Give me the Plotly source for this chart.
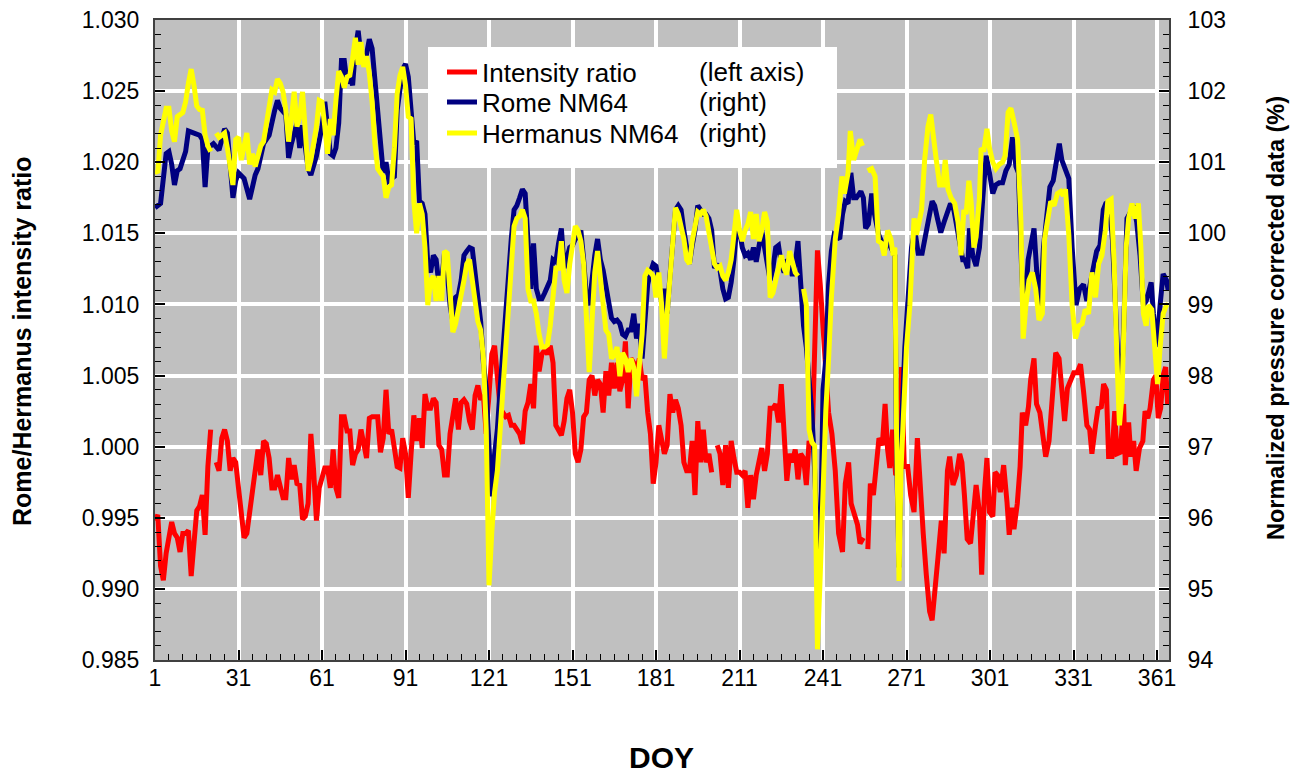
import plotly.graph_objects as go

# ---------------- data ----------------
N = None
ratio_doy = [1,2,3,4,5,7,8,9,10,11,12,13,14,15,16,17,18,19,20,21,22,23,24,25,26,27,28,29,30,
             31,32,33,34,35,36,37,38,39,40,41,42,43,44,45,46,47,48,49,50,51,52,53,54,55,56,57,58,59,60,
             61,62,63,64,65,66,67,68,69,70,71,72,73,74,75,76,77,78,79,80,81,82,83,84,85,86,87,88,89,90,
             91,92,93,94,95,96,97,98,99,100,101,102,103,104,105,106,107,108,109,110,111,112,113,114,115,116,117,118,119,120,
             121,122,123,124,125,126,127,128,129,130,131,132,133,134,135,136,137,138,139,140,141,142,143,144,145,146,147,148,149,150,
             151,152,153,154,155,156,157,158,159,160,161,162,163,164,165,166,167,168,169,170,171,172,173,174,175,176,177,178,179,180,
             181,182,183,184,185,186,187,188,189,190,191,192,193,194,195,196,197,198,199,200,201,202,203,204,205,206,207,208,209,210,
             211,212,213,214,215,216,217,218,219,220,221,222,223,224,225,226,227,228,229,230,231,232,233,234,235,236,237,238,239,240,
             241.5,243,244.2,245.4,246.6,248,249,250.2,251.1,252.3,253.4,254.3,255.5,256.3,257.1,258,259.1,260.3,261.1,262.3,263.3,264.2,265,266,267.1,268.3,269.2,270.2,
             271.4,272.5,273.7,274.9,275.8,277,278.1,279.3,280.2,281.1,282.3,283.5,284.5,285.7,286.5,287.7,288.9,290.1,290.9,291.8,292.8,294,295.2,296,297.2,298,299,299.9,
             300.8,302,302.8,303.7,304.7,305.9,307.1,307.9,308.8,309.6,310.8,311.8,312.6,313.8,314.8,315.6,316.8,317.7,318.9,319.8,321,322.2,323.4,324.6,325.8,326.7,327.8,328.8,
             329.9,331.1,332.3,333.5,334.6,335.8,336.8,337.6,338.9,339.8,341,341.8,342.8,343.6,344.8,345.8,346.6,347.8,349,349.6,350.8,351.6,352.6,353.5,354.7,355.9,356.7,357.7,
             358.5,359.7,360.6,361.4,362.3,363.2,364.1,364.8]
ratio = [0.9948,0.9952,0.9916,0.9906,0.9925,0.9947,0.9939,0.9936,0.9926,0.9939,0.9939,0.9941,0.9909,0.9933,0.9955,0.9958,0.9966,0.9938,0.9986,1.0012,N,0.9989,0.9983,1.0006,1.0012,1.0004,0.9983,0.9992,0.9989,
         0.9971,0.9951,0.9936,0.9939,0.9954,0.9974,0.9983,0.9998,0.9980,1.0004,1.0002,0.9992,0.9971,0.9971,0.9980,0.9971,0.9964,0.9964,0.9992,0.9977,0.9987,0.9974,0.9973,0.9949,0.9951,0.9960,1.0009,0.9983,0.9948,0.9971,
         0.9980,0.9985,0.9985,0.9971,0.9998,0.9971,0.9964,1.0021,1.0021,1.0011,1.0011,0.9987,0.9995,0.9998,1.0012,1.0001,0.9992,1.0020,1.0021,1.0021,1.0021,0.9996,1.0006,1.0040,1.0009,1.0012,1.0001,0.9986,0.9985,1.0006,
         0.9995,0.9964,0.9995,1.0022,1.0004,1.0020,0.9999,1.0037,1.0027,1.0027,1.0034,1.0031,1.0001,0.9998,0.9980,0.9980,1.0009,1.0024,1.0034,1.0012,1.0031,1.0033,1.0030,1.0018,1.0012,1.0036,1.0043,1.0033,1.0036,1.0009,
         1.0041,1.0065,1.0071,1.0053,1.0027,1.0024,1.0021,1.0022,1.0015,1.0015,1.0012,1.0009,1.0002,1.0025,1.0031,1.0044,1.0027,1.0071,1.0053,1.0065,1.0068,1.0065,1.0071,1.0059,1.0015,1.0011,1.0008,1.0018,1.0034,1.0040,
         1.0024,0.9995,0.9989,0.9998,1.0021,1.0024,1.0047,1.0050,1.0036,1.0047,1.0044,1.0024,1.0053,1.0036,1.0059,1.0041,1.0059,1.0039,1.0047,1.0074,1.0027,1.0062,1.0059,1.0053,1.0062,1.0047,1.0050,1.0024,1.0009,0.9974,
         0.9989,1.0015,1.0004,0.9995,1.0001,1.0037,1.0024,1.0033,1.0027,1.0015,0.9989,0.9983,0.9983,1.0004,0.9966,1.0018,0.9989,1.0012,0.9989,0.9995,0.9982,N,1.0001,0.9995,0.9973,1.0001,0.9971,1.0004,0.9992,0.9982,
         0.9982,0.9980,0.9983,0.9957,0.9980,0.9963,0.9980,0.9989,0.9999,0.9983,0.9995,1.0027,1.0027,1.0030,1.0017,1.0044,1.0006,0.9976,0.9995,0.9989,0.9998,0.9977,0.9995,0.9992,0.9973,1.0004,0.9998,1.0056,1.0138,1.0114,
         1.0064,1.0024,1.0009,0.9983,0.9939,0.9926,0.9974,0.9989,0.9960,0.9951,0.9945,0.9932,0.9936,N,0.9928,0.9974,0.9966,0.9992,1.0006,1.0001,1.0030,0.9998,0.9985,1.0012,0.9980,0.9983,1.0056,0.9986,
         0.9986,0.9966,0.9954,1.0006,0.9971,0.9939,0.9910,0.9884,0.9878,0.9901,0.9922,0.9948,0.9925,0.9983,0.9993,0.9973,0.9980,0.9995,0.9989,0.9966,0.9935,0.9932,0.9960,0.9973,0.9954,0.9910,0.9968,0.9992,
         0.9954,0.9951,0.9982,0.9980,0.9968,0.9987,0.9961,0.9938,0.9957,0.9942,0.9960,0.9986,1.0024,1.0015,1.0028,1.0047,1.0062,1.0030,1.0024,1.0012,0.9993,1.0004,1.0041,1.0066,1.0062,1.0044,1.0018,1.0041,
         1.0047,1.0052,1.0052,1.0058,1.0039,1.0015,1.0012,0.9995,1.0015,1.0027,1.0028,1.0044,1.0040,0.9993,0.9993,1.0025,0.9995,0.9996,1.0030,0.9987,1.0017,0.9993,1.0004,0.9983,0.9999,1.0004,1.0025,1.0020,
         1.0027,1.0047,1.0050,1.0020,1.0027,1.0050,1.0056,1.0030]

rome_doy = [1,3,5,6,7,8,9,10,12,13,15,17,18,19,20,22,24,26,27,29,30,31,33,34,35,37,38,40,42,44,45,46,48,49,50,52,53,54,56,57,59,
            61,62,64,65,66,67,68,69,70,71,72,73,74,75,77,78,79,80,82,83,84,85,87,88,90,91,92,93,94,95,96,97,98,99,100,
            101,102,103,104,105,106,107,108,109,110,111,112,113,114,115,116,117,118,119,120,121,122,123,124,125,126,127,128,129,130,
            131,132,133,134,135,136,137,138,139,140,141,142,143,144,145,146,147,148,149,150,151,152,153,154,155,156,157,158,159,160,
            161,162,163,164,165,166,167,168,169,170,171,172,173,174,175,176,177,178,179,180,181,182,183,184,185,186,187,188,189,190,
            191,192,193,194,195,196,197,198,199,200,201,202,203,204,205,206,207,208,209,210,211,212,213,214,215,216,217,218,219,220,
            221,222,223,224,225,226,227,228,229,230,231,232,233,234,235,236,237,238,239,240,241,242,243,244,245,247,248,249,250,251,252,253,
            254.6,255.5,256.3,257.3,258.5,259.5,261,262,263,264.2,265.6,266.8,267.4,268.3,269.2,270.4,271.6,272.8,274,275.2,276.6,277.8,279,280.2,281.1,282.1,283.3,284.5,285.7,286.8,
            288,289.2,290.4,291.2,292,293,293.6,294.8,296,297.2,298.4,299.6,300.8,302,303.1,304.3,305.5,306.7,307.9,309.1,310.3,311.2,312.4,313.2,314.7,315.9,316.8,317.8,319,320.2,
            321.3,322.5,323.7,324.9,325.9,326.8,327.8,329.3,330.5,331.9,333.2,334.6,335.8,337,338.1,339.3,340.5,341.7,342.6,343.8,345,346.6,347.8,349,350.2,351.1,352.5,353.7,354.9,356.1,
            357.1,357.9,358.9,359.7,360.9,362.1,363.2,364.4,365]
rome = [100.36,100.42,101.12,101.15,100.97,100.68,100.88,100.91,101.15,101.44,101.41,101.38,101.32,100.65,101.2,101.26,101.17,101.47,101.41,100.5,100.74,100.85,100.77,100.62,100.48,100.82,100.91,101.26,101.38,101.73,101.87,101.76,101.67,101.06,101.26,101.55,101.2,101.52,100.91,100.82,101.09,
        101.5,101.85,101.12,101.09,101.2,101.55,102.43,102.43,102.11,102.22,102.08,102.6,102.85,102.49,102.52,102.73,102.6,102.2,101.38,100.85,101.0,100.74,100.8,101.73,102.31,102.38,102.2,101.61,101.26,101.3,100.45,100.42,100.27,99.57,99.45,
        99.69,99.63,99.28,99.34,99.72,99.45,98.99,98.76,99.1,99.13,99.34,99.69,99.75,99.8,99.78,99.45,98.99,98.76,98.17,97.82,97.0,96.3,96.89,97.24,97.82,98.4,98.99,99.45,99.92,100.33,
        100.39,100.5,100.62,100.56,99.98,99.22,99.86,99.22,99.08,99.08,99.16,99.25,99.34,99.63,99.6,99.86,100.07,99.51,99.63,99.8,99.83,99.92,99.95,100.04,99.63,99.1,98.99,99.4,99.69,99.92,
        99.63,99.48,99.28,99.05,98.81,98.76,98.78,98.73,98.58,98.55,98.64,98.64,98.87,98.52,98.73,98.24,98.87,99.28,99.45,99.57,99.54,99.34,99.05,99.22,98.87,99.4,99.8,100.33,100.39,100.33,
        100.04,99.83,99.57,99.83,100.04,100.39,100.33,100.27,100.27,100.21,100.04,99.51,99.57,99.48,99.22,99.08,99.1,99.31,99.63,100.1,100.04,99.8,99.69,99.72,99.63,99.8,99.6,99.8,100.04,99.8,
        99.57,99.34,99.51,99.8,99.83,99.57,99.45,99.63,99.57,99.4,99.57,99.89,99.28,98.7,98.4,97.94,97.47,96.66,95.72,95.3,97.8,98.23,99.28,99.75,99.98,99.92,100.27,100.45,100.42,100.85,100.5,100.5,
        100.59,100.5,100.07,100.13,100.56,100.27,99.98,99.89,99.75,99.89,99.8,99.69,96.95,95.3,97.24,98.4,99.1,99.8,100.04,99.72,99.72,100.01,100.21,100.45,100.39,100.21,100.01,100.16,100.33,100.42,
        100.33,100.04,99.8,99.63,99.63,99.51,100.07,99.69,99.54,99.8,100.5,101.09,100.85,100.56,100.68,100.71,100.71,100.88,100.97,101.35,100.94,100.85,99.45,98.76,99.63,99.92,100.07,99.45,98.87,99.8,
        100.21,100.65,100.74,101.03,101.26,101.03,100.91,100.77,99.8,98.99,99.22,99.28,99.05,99.28,99.45,99.75,99.83,100.33,100.42,100.45,99.9,98.52,97.47,98.64,100.21,100.27,100.39,100.16,99.69,98.99,
        99.05,99.16,99.31,98.87,98.4,98.99,99.43,99.34,99.2]

herm_doy = [1,2,3,4,5,6,7,8,9,11,12,13,14,15,16,17,18,19,20,21,22,23,24,25,26,27,28,29,30,
            31,32,33,34,35,36,37,38,39,40,41,42,43,44,45,46,47,48,49,50,51,52,53,54,55,56,57,58,59,60,
            61,62,63,64,65,66,67,68,69,70,71,72,73,74,75,76,77,78,79,80,81,82,83,84,85,86,87,88,89,90,
            91,92,93,94,95,96,97,98,99,100,101,102,103,104,105,106,107,108,109,110,111,112,113,114,115,116,117,118,119,120,
            121,122,123,124,125,126,127,128,129,130,131,132,133,134,135,136,137,138,139,140,141,142,143,144,145,146,147,148,149,150,
            151,152,153,154,155,156,157,158,159,160,161,162,163,164,165,166,167,168,169,170,171,172,173,174,175,176,177,178,179,180,
            181,182,183,184,185,186,187,188,189,190,191,192,193,194,195,196,197,198,199,200,201,202,203,204,205,206,207,208,209,210,
            211,212,213,214,215,216,217,218,219,220,221,222,223,224,225,226,227,228,229,230,231,232,233,234,235,236,237,238,239,240,
            241,242,243,244,245.4,246.6,247.8,248.7,250,250.8,252,253.1,254.3,255.2,256,257,258.5,259.7,260.9,262,263,264.2,265.4,266.2,266.8,267.4,268.3,269,269.8,
            271,272.2,273,273.7,274.6,275.4,276.4,277.5,278.7,279.7,280.5,281.7,282.9,284.1,284.9,285.9,287,288.3,289.5,290.6,291.6,292.4,293.4,294.2,295.2,296,297.2,297.8,298.7,299.9,
            300.8,302,303.1,304.3,305.5,306.4,307.5,308.5,309.7,310.9,312.1,312.9,313.9,315,316.2,317.4,318.6,319.8,320.6,321.8,322.8,324,325.2,326.4,327.3,328.1,329.3,330.5,331.7,332.9,
            334.1,335.2,336.4,337.6,338.9,340,341.2,342.4,343.3,344.5,345.6,346.6,347.5,348.4,349.2,349.9,350.8,352,353.1,354.3,355.2,356.1,357.1,357.9,359.1,360.3,361.2,362.1,363.2,364.4,365]
herm = [100.88,100.85,101.38,101.55,101.76,101.76,101.44,101.29,101.64,101.7,101.85,102.11,102.31,102.08,101.79,101.74,101.73,101.38,101.23,101.15,N,101.41,101.35,101.38,101.41,101.2,100.97,100.68,101.32,
        101.35,101.03,101.2,101.41,100.97,101.12,100.94,101.06,101.23,101.29,101.55,101.79,102.02,101.99,102.17,102.11,101.99,101.73,101.29,101.61,101.99,101.5,101.64,101.99,101.38,100.88,101.03,101.26,101.5,101.87,
        101.85,101.5,101.12,101.61,101.38,101.87,102.28,102.2,102.05,102.2,102.22,102.46,102.75,102.37,102.69,102.34,102.49,102.25,101.85,101.26,100.91,100.85,100.8,100.5,100.65,100.68,101.2,101.96,102.22,102.34,
        102.08,101.64,101.61,100.45,100.0,100.42,100.27,99.8,98.99,99.34,99.4,99.05,99.4,99.05,99.75,99.72,99.1,98.61,98.73,98.93,99.05,99.34,99.57,99.63,99.34,98.99,98.76,98.64,98.24,97.24,
        95.05,95.8,96.36,96.66,97.24,97.82,98.29,98.87,99.57,100.1,100.21,100.24,100.33,100.21,99.22,99.05,99.05,98.87,98.58,98.4,98.4,98.43,98.7,99.1,99.51,99.51,99.89,99.34,99.16,99.57,
        99.89,100.1,100.04,99.89,99.57,98.87,98.05,98.76,99.45,99.75,99.34,98.99,98.64,98.58,98.24,98.29,98.4,97.99,98.32,98.24,98.05,98.24,98.11,97.71,98.17,98.58,99.4,99.48,99.45,99.4,
        99.1,99.45,98.99,98.24,98.87,99.45,100.04,100.36,100.27,100.1,99.92,99.63,99.57,99.89,100.07,100.3,100.27,100.33,100.24,100.04,99.86,99.57,99.51,99.54,99.4,99.34,99.45,99.63,99.98,100.33,
        100.04,99.89,100.04,100.13,100.3,99.92,100.27,99.89,100.04,100.3,100.16,99.1,99.16,99.34,99.57,99.69,99.51,99.42,99.75,99.57,99.45,99.4,N,99.22,98.99,97.24,97.06,97.01,94.15,95.2,
        96.66,97.5,98.23,99.1,99.92,100.27,100.8,100.56,100.85,101.44,101.03,101.2,101.32,101.23,N,100.88,100.91,100.8,99.89,99.86,99.69,100.04,99.92,99.69,99.8,97.24,95.11,96.66,97.53,
        98.4,98.99,99.51,100.21,99.98,100.16,100.33,101.03,101.5,101.67,101.38,101.03,100.68,100.68,101.03,100.62,100.5,100.42,100.16,99.69,100.33,100.27,100.74,100.45,99.8,99.95,100.5,101.2,101.15,101.47,
        101.2,101.0,100.91,100.97,101.0,101.09,101.7,101.76,101.55,101.32,100.16,98.52,98.99,99.34,99.45,99.22,98.78,98.87,99.92,100.27,100.45,100.39,100.56,100.59,100.53,100.62,99.98,98.99,98.52,98.7,
        98.73,98.93,98.87,99.45,99.1,99.57,99.69,100.04,100.45,100.48,99.57,98.23,97.3,97.71,98.87,99.8,100.21,100.42,100.21,100.42,99.8,98.87,98.7,98.99,98.93,98.23,97.88,98.4,98.87,98.99,99.0]

doy_ticks = [1, 31, 61, 91, 121, 151, 181, 211, 241, 271, 301, 331, 361]
left_ticks = [0.985, 0.990, 0.995, 1.000, 1.005, 1.010, 1.015, 1.020, 1.025, 1.030]
right_ticks = [94, 95, 96, 97, 98, 99, 100, 101, 102, 103]
series_names = ["Intensity ratio", "Rome NM64", "Hermanus NM64"]
legend_notes = ["(left axis)", "(right)", "(right)"]

# ---------------- figure ----------------
FONT = "Arial, Liberation Sans, sans-serif"
W, H = 1303, 774
OFF = 8                      # page body margin in the browser
L, R, T, B = 155, 134, 20, 114   # wanted plot-area edges on screen
pw, ph = 1014, 640

def px(xs):
    return (xs - L) / pw

def py(ys):
    return (T + ph - ys) / ph

fig = go.Figure()
fig.add_trace(go.Scatter(x=ratio_doy, y=ratio, name=series_names[0], mode="lines",
                         line=dict(color="#FF0000", width=5), yaxis="y", legend="legend"))
fig.add_trace(go.Scatter(x=rome_doy, y=rome, name=series_names[1], mode="lines",
                         line=dict(color="#000080", width=5), yaxis="y2", legend="legend2"))
fig.add_trace(go.Scatter(x=herm_doy, y=herm, name=series_names[2], mode="lines",
                         line=dict(color="#FFFF00", width=5), yaxis="y2", legend="legend3"))

tickfont = dict(family=FONT, size=23, color="black")
row_y = [72, 102, 133]
leg_common = dict(xanchor="left", yanchor="middle", bgcolor="rgba(0,0,0,0)", borderwidth=0,
                  font=dict(family=FONT, size=26, color="black"))

fig.update_layout(
    width=W, height=H, autosize=False,
    margin=dict(l=L - OFF, r=R + OFF, t=T - OFF, b=B + OFF, pad=0, autoexpand=False),
    paper_bgcolor="white", plot_bgcolor="#C0C0C0",
    showlegend=True,
    legend=dict(x=px(442), y=py(row_y[0]), **leg_common),
    legend2=dict(x=px(442), y=py(row_y[1]), **leg_common),
    legend3=dict(x=px(442), y=py(row_y[2]), **leg_common),
    xaxis=dict(range=[1, 365.3], tickmode="array", tickvals=doy_ticks, automargin=False,
               ticktext=[str(t) for t in doy_ticks], tickfont=tickfont, ticklabeloverflow="allow",
               ticks="inside", ticklen=10, tickwidth=1.5, tickcolor="black",
               minor=dict(tick0=1, dtick=5, ticks="inside", ticklen=6, tickwidth=1.2,
                          tickcolor="black", showgrid=False),
               showgrid=True, gridcolor="white", gridwidth=3.5,
               showline=True, linecolor="#404040", linewidth=2, mirror=True,
               zeroline=False),
    yaxis=dict(range=[0.985, 1.030], tickmode="array", tickvals=left_ticks, automargin=False,
               ticktext=[f"{v:.3f}" for v in left_ticks], tickfont=tickfont, ticklabeloverflow="allow",
               ticks="inside", ticklen=10, tickwidth=1.5, tickcolor="black",
               minor=dict(dtick=0.001, tick0=0.985, ticks="inside", ticklen=6, tickwidth=1.2,
                          tickcolor="black", showgrid=False),
               showgrid=True, gridcolor="white", gridwidth=3.5,
               showline=True, linecolor="#404040", linewidth=2,
               zeroline=False, ticklabelstandoff=9),
    yaxis2=dict(range=[94, 103], overlaying="y", side="right", tickmode="array", automargin=False,
                tickvals=right_ticks, ticktext=[str(v) for v in right_ticks], tickfont=tickfont,
                ticklabeloverflow="allow",
                ticks="inside", ticklen=10, tickwidth=1.5, tickcolor="black",
                minor=dict(dtick=0.2, tick0=94, ticks="inside", ticklen=6, tickwidth=1.2,
                           tickcolor="black", showgrid=False),
                showgrid=False, showline=True, linecolor="#404040", linewidth=2,
                zeroline=False, ticklabelstandoff=12),
)
try:
    fig.update_xaxes(ticklabelstandoff=-4)
except Exception:
    fig.update_xaxes(ticklabelstandoff=0)

# legend box
fig.add_shape(type="rect", xref="paper", yref="paper",
              x0=px(428), x1=px(837), y0=py(168), y1=py(47),
              fillcolor="white", line=dict(width=0), layer="above")

# second legend column
for note, yy in zip(legend_notes, row_y):
    fig.add_annotation(xref="paper", yref="paper", x=px(697), y=py(yy),
                       xanchor="left", yanchor="middle", showarrow=False, text=note,
                       font=dict(family=FONT, size=26, color="black"))

# axis titles
fig.add_annotation(xref="paper", yref="paper", x=px(22), y=py(341), textangle=-90,
                   xanchor="center", yanchor="middle", showarrow=False,
                   text="<b>Rome/Hermanus intensity ratio</b>",
                   font=dict(family=FONT, size=25, color="black"))
fig.add_annotation(xref="paper", yref="paper", x=px(1276), y=py(318), textangle=-90,
                   xanchor="center", yanchor="middle", showarrow=False,
                   text="<b>Normalized pressure corrected data (%)</b>",
                   font=dict(family=FONT, size=23.5, color="black"))
fig.add_annotation(xref="paper", yref="paper", x=px(661), y=py(757),
                   xanchor="center", yanchor="middle", showarrow=False,
                   text="<b>DOY</b>", font=dict(family=FONT, size=30, color="black"))

fig.write_html("out.html")
